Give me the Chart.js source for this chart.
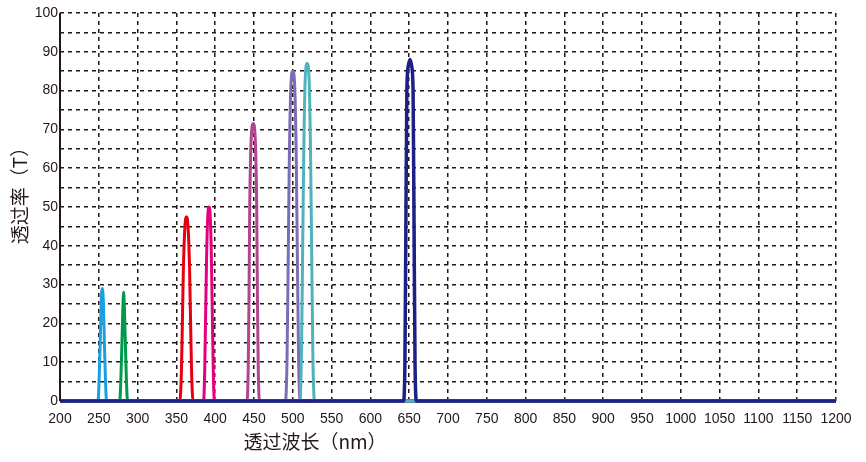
<!DOCTYPE html>
<html>
<head>
<meta charset="utf-8">
<script src="https://cdn.jsdelivr.net/npm/chart.js@4/dist/chart.umd.min.js"></script>
<style>
  html, body { margin: 0; padding: 0; background: #fff; }
  #wrap { width: 866px; height: 462px; position: relative; }
</style>
</head>
<body>
<div id="wrap"><canvas id="chart"></canvas></div>
<script>
"use strict"

// axis ranges / ticks
const xMin = 200, xMax = 1200, xStep = 50;
const yMin = 0, yMax = 100, yStep = 5;
const xTitle = '透过波长（nm）';
const yTitle = '透过率（T）';

// transmission curves (wavelength nm / transmission %)
const navyX  = [200, 642.5, 644.5, 645.7, 647, 649, 651, 653, 655, 656.3, 657.5, 659.5, 1200];
const navyY  = [0, 0, 10, 44, 80, 86.5, 88, 86.5, 80, 44, 10, 0, 0];
const tealX  = [200, 509, 511, 512.5, 514, 516, 518.5, 521, 523, 524.5, 526, 528, 1200];
const tealY  = [0, 0, 10, 35, 62, 83, 87, 83, 62, 35, 10, 0, 0];
const slateX = [200, 490.5, 492.5, 494, 495.5, 497.5, 500, 502.5, 504.5, 506, 507.5, 509.5, 1200];
const slateY = [0, 0, 10, 35, 62, 81, 85, 81, 62, 35, 10, 0, 0];
const plumX  = [200, 441, 442.5, 443.5, 444.5, 446.5, 449, 451.5, 453.5, 454.5, 455.5, 457, 1200];
const plumY  = [0, 0, 8, 25, 50, 68, 71.5, 68, 50, 25, 8, 0, 0];
const pinkX  = [200, 385, 386.5, 387.5, 389, 390.5, 392, 393.5, 395, 396.5, 397.5, 399, 1200];
const pinkY  = [0, 0, 8, 20, 38, 48, 50, 48, 38, 20, 8, 0, 0];
const redX   = [200, 354.5, 356.5, 357.5, 359, 361, 363, 365, 367, 368.5, 369.5, 371.5, 1200];
const redY   = [0, 0, 8, 18, 34, 45, 47.5, 45, 34, 18, 8, 0, 0];
const greenX = [200, 277, 278.5, 279.8, 281, 282, 283, 284.2, 285.5, 287, 1200];
const greenY = [0, 0, 6, 15, 24, 28, 24, 15, 6, 0, 0];
const blueX  = [200, 249, 250.5, 251.8, 253, 254.5, 256, 257.2, 258.5, 260, 1200];
const blueY  = [0, 0, 6, 15, 25, 29, 25, 15, 6, 0, 0];

function pts(xs, ys) {
  return xs.map((x, i) => ({x: x, y: ys[i]}));
}

function curve(xs, ys, color, width) {
  return {
    data: pts(xs, ys),
    borderColor: color,
    borderWidth: width || 3,
    pointRadius: 0,
    fill: false,
    clip: false,
    cubicInterpolationMode: 'monotone'
  };
}

const ink = '#231815';

// axis titles drawn on the canvas at the places they sit in the picture,
// plus the solid left axis line
const titlePlugin = {
  id: 'titles',
  afterDraw(chart) {
    let ctx = chart.ctx;
    let area = chart.chartArea;
    ctx.save();
    ctx.strokeStyle = ink;
    ctx.lineWidth = 2;
    ctx.beginPath();
    ctx.moveTo(area.left, area.top);
    ctx.lineTo(area.left, area.bottom);
    ctx.stroke();
    ctx.fillStyle = ink;
    ctx.font = '19px "Noto Sans CJK SC"';
    ctx.textAlign = 'center';
    ctx.textBaseline = 'middle';
    ctx.fillText(xTitle, area.left + 255, 442);
    ctx.translate(20, 191);
    ctx.rotate(-Math.PI / 2);
    ctx.fillText(yTitle, 0, 0);
    ctx.restore();
  }
};

const ctx = document.getElementById('chart').getContext('2d');
new Chart(ctx, {
  type: 'line',
  data: {
    datasets: [
      curve(navyX, navyY, '#1d2087', 3.5),
      curve(tealX, tealY, '#4fb2bd'),
      curve(slateX, slateY, '#7d6db4'),
      curve(plumX, plumY, '#b0468f'),
      curve(pinkX, pinkY, '#e4007f'),
      curve(redX, redY, '#e60012'),
      curve(greenX, greenY, '#009a48'),
      curve(blueX, blueY, '#18a0e0')
    ]
  },
  options: {
    responsive: true,
    maintainAspectRatio: false,
    animation: false,
    layout: { padding: { left: 0, top: 13, right: 30, bottom: 0 } },
    plugins: { legend: { display: false }, tooltip: { enabled: false } },
    scales: {
      x: {
        type: 'linear',
        min: xMin, max: xMax,
        afterFit: s => { s.height = 61; },
        ticks: {
          stepSize: xStep,
          autoSkip: false,
          maxRotation: 0,
          padding: 10,
          color: ink,
          font: { family: '"Liberation Sans"', size: 14 },
          callback: v => String(v)
        },
        grid: { color: ink, lineWidth: 1.5, drawTicks: false },
        border: { display: false, dash: [4, 4] }
      },
      y: {
        min: yMin, max: yMax,
        afterFit: s => { s.width = 60; },
        ticks: {
          stepSize: yStep,
          autoSkip: false,
          padding: 2,
          color: ink,
          font: { family: '"Liberation Sans"', size: 14 },
          callback: v => (v % 10 === 0 ? String(v) : '')
        },
        grid: { color: ink, lineWidth: 1.5, drawTicks: false },
        border: { display: false, dash: [4, 4] }
      }
    }
  },
  plugins: [titlePlugin]
});
</script>
</body>
</html>
